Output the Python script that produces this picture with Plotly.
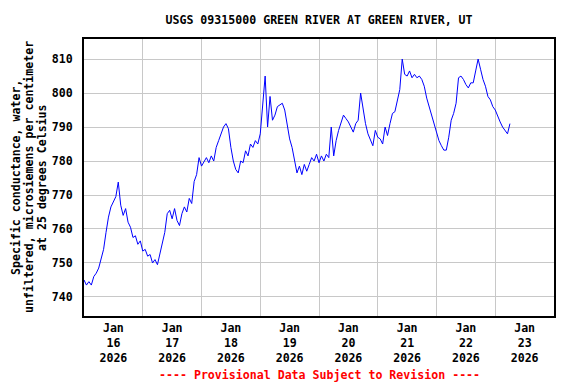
import pandas as pd
import plotly.graph_objects as go

# Hourly readings starting 2026-01-16 00:00
start_time = "2026-01-16 00:00"
conductance = [
    745, 743.5, 744.5, 743.5, 746, 747, 748.5, 751, 754, 759,
    763.5, 766.5, 768, 769.5, 773.8, 767, 764, 766, 762, 760.5,
    757.5, 758, 755.5, 756.5, 753.5, 754, 752, 752.5, 750, 751,
    749.5, 753, 755.5, 759, 764.5, 765.5, 763, 766, 762.5, 761,
    764.5, 766.5, 765, 769, 767.5, 774, 776, 781, 778.5, 780,
    781, 779.5, 781.5, 780, 784, 786, 788, 790, 791, 789.5,
    784, 780, 777.5, 776.5, 780, 779.5, 783, 781.5, 785, 784,
    786, 785, 788, 797.5, 805, 790, 799, 792, 793.5, 796,
    796.5, 797, 795, 791, 786.5, 784, 780, 776.5, 778.5, 776,
    779, 777, 779, 781, 780, 782, 779.5, 781.5, 780, 782,
    781, 790, 781.5, 786, 789, 791, 793.5, 792.5, 791.5, 790,
    788.5, 791, 792, 800, 795, 791, 788, 786, 784.5, 789,
    787, 786.5, 785, 790, 787.5, 791, 794, 794.5, 798, 801,
    810, 805.5, 805, 806.5, 804.5, 805.5, 804.5, 805, 804, 802,
    798.5, 796, 793, 790.5, 788, 786, 784.5, 783.2, 783.2, 787,
    792, 794, 797, 804.5, 805, 804, 802.5, 801.5, 803, 803,
    806.5, 810, 807, 804, 802, 799, 798, 796, 795, 793,
    791.5, 790, 789, 788, 791,
]
times = pd.date_range(start_time, periods=len(conductance), freq="h")

day_starts = pd.date_range("2026-01-16", "2026-01-24", freq="D")
label_days = pd.date_range("2026-01-16 12:00", periods=8, freq="D")
tick_labels = [f"Jan<br>{d.day}<br>{d.year}" for d in label_days]
y_ticks = [740, 750, 760, 770, 780, 790, 800, 810]
y_title_lines = [
    "Specific conductance, water,",
    "unfiltered, microsiemens per centimeter",
    "at 25 degrees Celsius",
]

FONT = "DejaVu Sans Mono"

# The page adds an 8px body margin, so the figure is sized to compensate.
W, H = 568, 376
L, R, T, B = 76, 22, 31, 68
PW, PH = W - L - R, H - T - B

fig = go.Figure()
fig.add_trace(go.Scatter(
    x=times, y=conductance, mode="lines",
    line=dict(color="#0000ff", width=1),
    showlegend=False, hoverinfo="skip",
))

fig.update_layout(
    width=W, height=H,
    margin=dict(l=L, r=R, t=T, b=B),
    paper_bgcolor="white", plot_bgcolor="white",
    font=dict(family=FONT, size=11.6, color="black", weight="bold"),
    title=dict(text="USGS 09315000 GREEN RIVER AT GREEN RIVER, UT",
               x=(L + PW / 2) / W, xanchor="center", y=1 - 12 / H, yanchor="middle",
               font=dict(family=FONT, size=11.6, color="black", weight="bold")),
    xaxis=dict(
        type="date",
        range=[day_starts[0], day_starts[-1]],
        tickmode="array", tickvals=label_days, ticktext=tick_labels,
        showgrid=False, ticks="", showline=True, linecolor="black", linewidth=2, mirror=True,
        minor=dict(tickvals=list(day_starts), showgrid=True, gridcolor="#c8c8c8", gridwidth=1, ticks=""),
        zeroline=False,
    ),
    yaxis=dict(
        range=[734.4, 815.9],
        tickmode="array", tickvals=y_ticks,
        showgrid=True, gridcolor="#c8c8c8", gridwidth=1,
        ticks="", ticklabelstandoff=7,
        showline=True, linecolor="black", linewidth=2, mirror=True, zeroline=False,
    ),
)

# y-axis title, one annotation per line (figure-pixel x centres)
for line_text, fx in zip(y_title_lines, [7.5, 20.5, 33.5]):
    fig.add_annotation(
        text=line_text,
        xref="paper", yref="paper", x=(fx - L) / PW, y=0.5,
        xanchor="center", yanchor="middle", textangle=-90, showarrow=False,
        font=dict(family=FONT, size=11.6, color="black", weight="bold"),
    )

fig.add_annotation(
    text="---- Provisional Data Subject to Revision ----",
    xref="paper", yref="paper", x=0.5, y=-(375 - 316) / PH,
    xanchor="center", yanchor="middle", showarrow=False,
    font=dict(family=FONT, size=11.6, color="#ff0000", weight="bold"),
)

fig.write_html("out.html")
